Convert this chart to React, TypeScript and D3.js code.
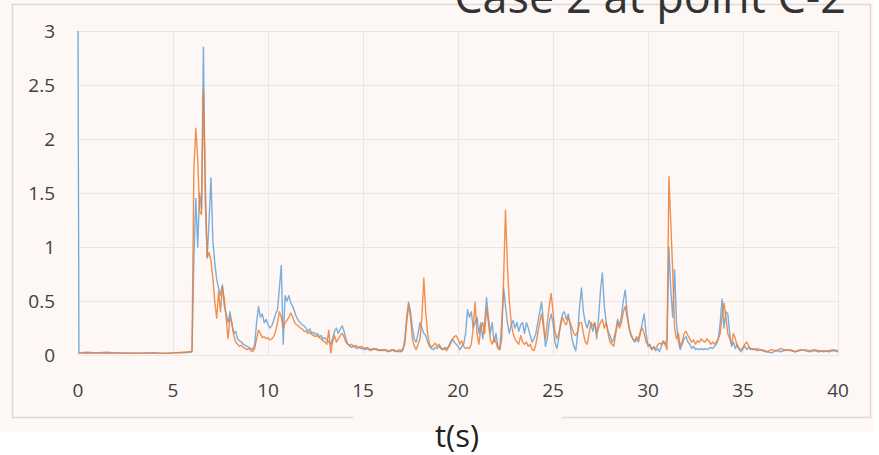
import React from 'react';
import * as d3 from 'd3';

const TITLE = 'Case 2 at point C-2';
const X_LABEL = 't(s)';
const xTicks = [0, 5, 10, 15, 20, 25, 30, 35, 40];
const yTicks = [0, 0.5, 1, 1.5, 2, 2.5, 3];
const yTickLabels = ['0', '0.5', '1', '1.5', '2', '2.5', '3'];

// segment A: quiet start
const timeA = [0, 0.05, 0.5, 1, 1.5, 2, 2.5, 3, 3.5, 4, 4.5, 5, 5.5, 5.9];
const blueA = [3.0, 0.02, 0.015, 0.02, 0.015, 0.02, 0.015, 0.02, 0.015, 0.02, 0.015, 0.02, 0.02, 0.025];
const orangeA = [0.02, 0.02, 0.025, 0.02, 0.025, 0.02, 0.02, 0.015, 0.02, 0.02, 0.015, 0.02, 0.025, 0.03];

// segment B: samples every 0.1 s from 6.0 s to 35.4 s
const blueB = [
  0.03, 0.9, 1.45, 1.0, 1.5, 1.35, 2.85, 1.4, 0.9, 1.25,
  1.64, 1.05, 0.85, 0.7, 0.62, 0.55, 0.65, 0.45, 0.38, 0.3,
  0.4, 0.28, 0.2, 0.22, 0.15, 0.13, 0.12, 0.1, 0.09, 0.08,
  0.07, 0.06, 0.05, 0.1, 0.3, 0.45, 0.35, 0.38, 0.3, 0.33,
  0.28, 0.25, 0.27, 0.32, 0.38, 0.42, 0.62, 0.83, 0.1, 0.55,
  0.5, 0.55, 0.48, 0.45, 0.4, 0.35, 0.32, 0.3, 0.28, 0.27,
  0.25, 0.22, 0.24, 0.2, 0.21, 0.19, 0.2, 0.17, 0.18, 0.15,
  0.16, 0.14, 0.12, 0.1, 0.15, 0.22, 0.25, 0.2, 0.24, 0.27,
  0.22, 0.15, 0.1, 0.08, 0.07, 0.08, 0.07, 0.06, 0.07, 0.06,
  0.06, 0.05, 0.06, 0.05, 0.04, 0.05, 0.06, 0.05, 0.04, 0.05,
  0.04, 0.05, 0.04, 0.03, 0.04, 0.05, 0.04, 0.03, 0.04, 0.03,
  0.03, 0.04, 0.15, 0.35, 0.49, 0.4, 0.25, 0.15, 0.12, 0.2,
  0.3, 0.25, 0.2, 0.18, 0.12, 0.08, 0.06, 0.05, 0.07, 0.06,
  0.08, 0.06, 0.05, 0.07, 0.06, 0.08, 0.12, 0.15, 0.12, 0.1,
  0.08, 0.05, 0.08, 0.1, 0.2, 0.42, 0.35, 0.4, 0.25, 0.3,
  0.35, 0.2, 0.3, 0.15, 0.28, 0.53, 0.35, 0.2, 0.3, 0.12,
  0.2, 0.08, 0.05, 0.3, 0.62, 0.45, 0.3, 0.2, 0.28, 0.32,
  0.25, 0.3, 0.22, 0.28, 0.3, 0.2, 0.3, 0.25, 0.18, 0.12,
  0.15, 0.2, 0.3, 0.4, 0.49, 0.3, 0.08, 0.15, 0.3, 0.38,
  0.3, 0.12, 0.06, 0.15, 0.3, 0.38, 0.4, 0.33, 0.38, 0.28,
  0.15, 0.08, 0.04, 0.2, 0.45, 0.62, 0.4, 0.3, 0.25, 0.32,
  0.28, 0.22, 0.3, 0.15, 0.35, 0.6, 0.76, 0.45, 0.3, 0.22,
  0.18, 0.12, 0.15, 0.22, 0.33, 0.28, 0.35, 0.5, 0.6, 0.4,
  0.25, 0.18, 0.15, 0.12, 0.15, 0.12, 0.2, 0.3, 0.38, 0.2,
  0.08, 0.1, 0.05, 0.08, 0.04, 0.06, 0.03, 0.08, 0.12, 0.1,
  0.15, 1.0, 0.6, 0.35, 0.79, 0.3, 0.12, 0.05, 0.1, 0.15,
  0.17, 0.12, 0.1, 0.06, 0.08, 0.05, 0.06, 0.05, 0.06, 0.05,
  0.06, 0.05, 0.06, 0.07, 0.06, 0.08, 0.1, 0.15, 0.3, 0.52,
  0.25, 0.4, 0.38, 0.2, 0.08, 0.12, 0.06, 0.1, 0.05, 0.03,
  0.06, 0.08, 0.05, 0.07, 0.05,
];
const orangeB = [
  0.04, 1.73, 2.1, 1.82, 1.33, 1.3, 2.45, 1.6, 0.9, 0.95,
  0.87, 0.71, 0.49, 0.34, 0.59, 0.4, 0.63, 0.52, 0.34, 0.15,
  0.35, 0.3, 0.18, 0.12, 0.1, 0.08, 0.09, 0.07, 0.06, 0.05,
  0.06, 0.04, 0.03, 0.06, 0.15, 0.23, 0.2, 0.16, 0.17, 0.15,
  0.16, 0.14, 0.15, 0.17, 0.22, 0.3, 0.4, 0.35, 0.25, 0.3,
  0.32, 0.35, 0.39, 0.35, 0.3, 0.28, 0.27, 0.25, 0.24, 0.22,
  0.22, 0.2, 0.21, 0.19, 0.18, 0.17, 0.18, 0.16, 0.15, 0.13,
  0.12, 0.1, 0.23, 0.02, 0.12, 0.18, 0.12, 0.15, 0.18, 0.2,
  0.17, 0.12, 0.1, 0.09, 0.1, 0.08, 0.09, 0.08, 0.07, 0.08,
  0.07, 0.06, 0.07, 0.06, 0.05, 0.06, 0.05, 0.06, 0.05, 0.04,
  0.05, 0.04, 0.05, 0.04, 0.03, 0.04, 0.05, 0.04, 0.03, 0.05,
  0.04, 0.06, 0.1, 0.3, 0.46, 0.35, 0.15, 0.08, 0.05, 0.1,
  0.15, 0.35, 0.71, 0.4, 0.2, 0.1, 0.07, 0.09, 0.11, 0.08,
  0.1, 0.07, 0.05, 0.06, 0.04, 0.07, 0.1, 0.14, 0.17, 0.18,
  0.15, 0.1, 0.13, 0.08, 0.06, 0.07, 0.06, 0.1, 0.25, 0.49,
  0.2, 0.1, 0.25, 0.3, 0.2, 0.44, 0.3, 0.15, 0.1, 0.15,
  0.12, 0.06, 0.05, 0.15, 0.7, 1.34, 0.82, 0.5, 0.3, 0.2,
  0.15, 0.12, 0.1, 0.18, 0.12, 0.1, 0.12, 0.08, 0.1, 0.05,
  0.04, 0.1, 0.2, 0.3, 0.38, 0.25, 0.15, 0.3, 0.45, 0.57,
  0.4, 0.22, 0.15, 0.2, 0.27, 0.35, 0.3, 0.28, 0.35, 0.3,
  0.25, 0.2, 0.18, 0.22, 0.3, 0.3, 0.2, 0.12, 0.1, 0.2,
  0.3, 0.27, 0.3, 0.2, 0.25, 0.3, 0.33, 0.25, 0.3, 0.2,
  0.12, 0.1, 0.08, 0.2, 0.3, 0.25, 0.3, 0.4, 0.45, 0.35,
  0.26, 0.2, 0.15, 0.13, 0.17, 0.15, 0.22, 0.25, 0.2, 0.12,
  0.1, 0.08, 0.05, 0.07, 0.06, 0.09, 0.11, 0.1, 0.13, 0.1,
  0.05, 1.65, 1.22, 0.78, 0.25, 0.15, 0.2, 0.08, 0.12, 0.2,
  0.22, 0.18, 0.15, 0.12, 0.14, 0.1, 0.13, 0.12, 0.15, 0.13,
  0.12, 0.15, 0.13, 0.1, 0.12, 0.1, 0.12, 0.15, 0.2, 0.35,
  0.48, 0.35, 0.2, 0.15, 0.1, 0.2, 0.15, 0.08, 0.06, 0.05,
  0.07, 0.1, 0.12, 0.08, 0.06,
];

// segment C: samples every 0.25 s from 35.5 s to 40 s
const blueC = [0.06, 0.04, 0.05, 0.03, 0.02, 0.04, 0.03, 0.05, 0.04, 0.03, 0.05, 0.04, 0.03, 0.04, 0.03, 0.04, 0.03, 0.04, 0.03];
const orangeC = [0.05, 0.06, 0.04, 0.03, 0.05, 0.04, 0.06, 0.04, 0.05, 0.03, 0.04, 0.05, 0.04, 0.05, 0.04, 0.03, 0.04, 0.05, 0.04];

const timeB = blueB.map((_, i) => +(6 + i * 0.1).toFixed(2));
const timeC = blueC.map((_, i) => 35.5 + i * 0.25);
const time = [...timeA, ...timeB, ...timeC];
const blue = [...blueA, ...blueB, ...blueC];
const orange = [...orangeA, ...orangeB, ...orangeC];

const W = 879;
const H = 455;
const FONT = '"Open Sans", "Noto Sans", sans-serif';

export default function App() {
  const x = d3.scaleLinear().domain([0, 40]).range([78, 838]);
  const y = d3.scaleLinear().domain([0, 3]).range([355, 31]);
  const line = d3
    .line<number>()
    .x((_, i) => x(time[i]))
    .y((d) => y(d));

  const bx0 = 12.5, bx1 = 870.5, by0 = 4.5, by1 = 417.5;
  const gap0 = 353, gap1 = 562;
  const gridColor = '#ebe6e3';
  const borderColor = '#dcd8d6';

  return (
    <div style={{ position: 'fixed', left: 0, top: 0 }}>
      <svg width={W} height={H} style={{ display: 'block' }}>
        <rect x={0} y={0} width={W} height={H} fill="#ffffff" />
        <rect x={0} y={0} width={873} height={432} fill="#fdf8f5" />
        <path
          d={`M${gap0},${by1} L${bx0},${by1} L${bx0},${by0} L${bx1},${by0} L${bx1},${by1} L${gap1},${by1}`}
          fill="none"
          stroke={borderColor}
          strokeWidth={1.5}
        />
        {yTicks.map((t) => (
          <line key={'gy' + t} x1={x(0)} x2={x(40)} y1={Math.round(y(t)) + 0.5} y2={Math.round(y(t)) + 0.5} stroke={gridColor} strokeWidth={1} />
        ))}
        {xTicks.map((t) => (
          <line key={'gx' + t} x1={Math.round(x(t)) + 0.5} x2={Math.round(x(t)) + 0.5} y1={y(3)} y2={y(0)} stroke={gridColor} strokeWidth={1} />
        ))}
        <path d={line(blue) || ''} fill="none" stroke="#5b9bd5" strokeWidth={1.4} strokeOpacity={0.8} strokeLinejoin="round" />
        <path d={line(orange) || ''} fill="none" stroke="#ed7d31" strokeWidth={1.4} strokeOpacity={0.85} strokeLinejoin="round" />
        {yTicks.map((t, i) => (
          <text key={'yl' + t} x={55} y={y(t)} dy="0.36em" textAnchor="end" fontFamily={FONT} fontSize={19} fill="#404040">
            {yTickLabels[i]}
          </text>
        ))}
        {xTicks.map((t) => (
          <text key={'xl' + t} x={x(t)} y={397} textAnchor="middle" fontFamily={FONT} fontSize={19} fill="#404040">
            {t}
          </text>
        ))}
        <text x={846} y={13} textAnchor="end" fontFamily={FONT} fontSize={45} fill="#333333">
          {TITLE}
        </text>
        <text x={457} y={447} textAnchor="middle" fontFamily={FONT} fontSize={31} fill="#222222">
          {X_LABEL}
        </text>
      </svg>
    </div>
  );
}
